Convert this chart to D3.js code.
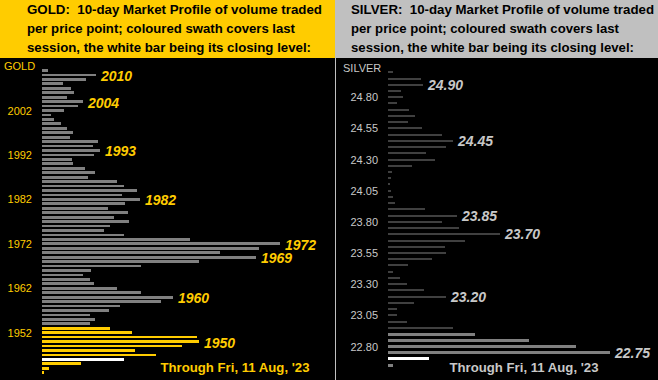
<!DOCTYPE html>
<html>
<head>
<meta charset="utf-8">
<script src="https://cdn.jsdelivr.net/npm/d3@7/dist/d3.min.js"></script>
<style>
  html, body { margin: 0; padding: 0; background: #000; }
  svg { display: block; }
  text { font-family: "Liberation Sans", Arial, sans-serif; white-space: pre; }
</style>
</head>
<body>
<svg id="chart" width="658" height="380"></svg>
<script>
// ---------- DATA ----------
const goldPrices = [2011,2010,2009,2008,2007,2006,2005,2004,2003,2002,
  2001,2000,1999,1998,1997,1996,1995,1994,1993,1992,
  1991,1990,1989,1988,1987,1986,1985,1984,1983,1982,
  1981,1980,1979,1978,1977,1976,1975,1974,1973,1972,
  1971,1970,1969,1968,1967,1966,1965,1964,1963,1962,
  1961,1960,1959,1958,1957,1956,1955,1954,1953,1952,
  1951,1950,1949,1948,1947,1946,1945,1944,1943];
const goldVolume = [6,54,44,21,29,32,25,41,36,22,
  9,12,19,25,31,28,56,51,58,52,
  30,31,43,53,46,75,82,95,80,98,
  83,66,86,72,87,68,62,82,148,238,
  217,178,214,157,99,49,41,48,52,75,
  99,131,119,78,67,48,53,48,68,90,
  155,157,140,93,114,82,39,7,2];
const goldSessionHigh = 1953;
const goldSessionLow = 1943;
const goldClose = 1946;
const goldTicks = [2002,1992,1982,1972,1962,1952];
const goldLabels = [2010,2004,1993,1982,1972,1969,1960,1950];

const silverPrices = [25.00,24.95,24.90,24.85,24.80,24.75,24.70,24.65,24.60,24.55,
  24.50,24.45,24.40,24.35,24.30,24.25,24.20,24.15,24.10,24.05,
  24.00,23.95,23.90,23.85,23.80,23.75,23.70,23.65,23.60,23.55,
  23.50,23.45,23.40,23.35,23.30,23.25,23.20,23.15,23.10,23.05,
  23.00,22.95,22.90,22.85,22.80,22.75,22.70,22.65];
const silverVolume = [4.7,33,35,13,15,9,21,27,20,34,
  54,65,58,38,47,24,4,3,2,3,
  5,7,37,69,54,71,112,77,57,58,
  44,20,5,12,19,36,58,26,9,9,
  19,65,87,141,188,222,41,5];
const silverSessionHigh = 22.90;
const silverSessionLow = 22.65;
const silverClose = 22.70;
const silverTicks = ["24.80","24.55","24.30","24.05","23.80","23.55","23.30","23.05","22.80"];
const silverLabels = ["24.90","24.45","23.85","23.70","23.20","22.75"];

const goldTitle = ["GOLD:  10-day Market Profile of volume traded",
  "per price point; coloured swath covers last",
  "session, the white bar being its closing level:"];
const silverTitle = ["SILVER:  10-day Market Profile of volume traded",
  "per price point; coloured swath covers last",
  "session, the white bar being its closing level:"];
const throughText = "Through Fri, 11 Aug, '23";

// ---------- DRAW ----------
const svg = d3.select("#chart");
const YEL = "#FFCC00";
const SIL = "#C8C8C8";

svg.append("rect").attr("x",0).attr("y",0).attr("width",658).attr("height",380).attr("fill","#000");
// headers
svg.append("rect").attr("x",0).attr("y",0).attr("width",335).attr("height",58).attr("fill",YEL);
svg.append("rect").attr("x",335).attr("y",0).attr("width",323).attr("height",58).attr("fill","#C0C0C0");
svg.append("rect").attr("x",335).attr("y",58).attr("width",1).attr("height",322).attr("fill","#C0C0C0");

function header(lines, x, widths) {
  const g = svg.append("g");
  lines.forEach((t,i) => {
    g.append("text").attr("x",x).attr("y",14 + i*19)
      .attr("xml:space","preserve")
      .attr("font-size",13).attr("font-weight","bold").attr("fill","#000")
      .attr("textLength",widths[i]).attr("lengthAdjust","spacingAndGlyphs")
      .text(t);
  });
}
header(goldTitle, 27, [295,268,284]);
header(silverTitle, 351, [303,268,283]);

function panel(opt) {
  const y = d3.scaleLinear().domain(opt.domain).range(opt.range);
  const x = d3.scaleLinear().domain([0,100]).range([opt.x0, opt.x0 + 100]);
  const g = svg.append("g");
  const sess = p => p <= opt.sHigh + 1e-9 && p >= opt.sLow - 1e-9;
  const isClose = p => Math.abs(p - opt.close) < 1e-9;
  const data = opt.prices.map((p,i) => ({p, v: opt.vol[i]}));
  g.selectAll("rect.bar").data(data).join("rect")
    .attr("class","bar")
    .attr("shape-rendering","crispEdges")
    .attr("x", opt.x0)
    .attr("width", d => x(d.v) - opt.x0)
    .attr("height", d => opt.h(sess(d.p)))
    .attr("y", d => y(d.p) - opt.h(sess(d.p))/2)
    .attr("fill", d => isClose(d.p) ? "#FFFFFF" : (sess(d.p) ? opt.sessColor : opt.barColor));

  // axis labels
  const ax = d3.axisLeft(y).tickValues(opt.ticks.map(Number))
    .tickSize(0).tickPadding(10).tickFormat(opt.fmt);
  const axg = g.append("g").attr("transform",`translate(${opt.x0},0)`).call(ax);
  axg.select(".domain").remove();
  axg.selectAll("text").attr("fill",opt.tickColor).attr("font-size",opt.tickSize)
    .attr("font-family","'Liberation Sans', Arial, sans-serif");

  g.append("text").attr("x",opt.nameX).attr("y",opt.nameY).attr("fill",opt.tickColor)
    .attr("font-size",opt.tickSize).text(opt.name);

  // annotations
  opt.labels.forEach(l => {
    const idx = opt.prices.findIndex(p => Math.abs(p - Number(l)) < 1e-9);
    g.append("text")
      .attr("x", x(opt.vol[idx]) + 5)
      .attr("y", y(Number(l)) + opt.labelDy)
      .attr("font-size",14).attr("font-weight","bold").attr("font-style","italic")
      .attr("fill",opt.labelColor).text(l);
  });

  g.append("text").attr("x",opt.throughX).attr("y",371.5)
    .attr("font-size",13.5).attr("font-weight","bold").attr("fill",opt.labelColor)
    .attr("textLength",149).attr("lengthAdjust","spacingAndGlyphs")
    .text(throughText);
}

panel({
  prices: goldPrices, vol: goldVolume,
  domain: [2011,1943], range: [70.5, 372.7],
  x0: 42, sHigh: goldSessionHigh, sLow: goldSessionLow, close: goldClose,
  h: s => 2.7, barColor: "#808080", sessColor: YEL,
  ticks: goldTicks, fmt: d3.format("d"), tickColor: YEL, tickSize: 11,
  name: "GOLD", nameX: 4, nameY: 70,
  labels: goldLabels, labelColor: YEL, labelDy: 6,
  throughX: 160.5
});

panel({
  prices: silverPrices, vol: silverVolume,
  domain: [25.00,22.75], range: [72.3, 352.7],
  x0: 388, sHigh: silverSessionHigh, sLow: silverSessionLow, close: silverClose,
  h: s => s ? 3 : 2, barColor: "#404040", sessColor: "#808080",
  ticks: silverTicks, fmt: d3.format(".2f"), tickColor: SIL, tickSize: 11,
  name: "SILVER", nameX: 343, nameY: 72,
  labels: silverLabels, labelColor: SIL, labelDy: 5,
  throughX: 449.5
});
</script>
</body>
</html>
